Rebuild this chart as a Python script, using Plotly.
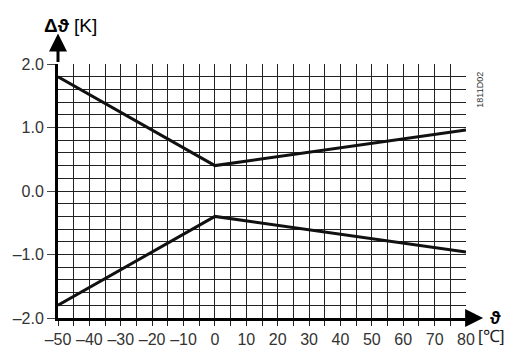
import plotly.graph_objects as go

temp = [-50, 0, 80]
upper = [1.8, 0.4, 0.96]
lower = [-1.8, -0.4, -0.96]
x_ticks = [-50, -40, -30, -20, -10, 0, 10, 20, 30, 40, 50, 60, 70, 80]
x_labels = ["\u201350", "\u201340", "\u201330", "\u201320", "\u201310", "0", "10", "20", "30", "40", "50", "60", "70", "80"]
y_ticks = [-2, -1, 0, 1, 2]
y_labels = ["\u20132.0", "\u20131.0", "0.0", "1.0", "2.0"]

fig = go.Figure()
for s in (upper, lower):
    fig.add_trace(go.Scatter(x=temp, y=s, mode="lines",
                             line=dict(color="#111", width=3), showlegend=False, hoverinfo="skip"))

grid = dict(showgrid=True, gridcolor="#222", gridwidth=1.3)
# page body has an 8px margin, so the figure is a bit smaller and margins shifted
fig.update_layout(
    width=514, height=339,
    margin=dict(l=50, r=56, t=56, b=29),
    plot_bgcolor="white", paper_bgcolor="white",
    font=dict(family="Liberation Sans, Arial", size=16, color="#333"),
    xaxis=dict(range=[-50, 80], tickvals=x_ticks, ticktext=x_labels, **grid,
               minor=dict(dtick=5, tick0=0, showgrid=True, gridcolor="#222", gridwidth=1.3,
                          ticks="outside", ticklen=5, tickcolor="#222", tickwidth=1.3),
               showline=True, linecolor="#000", linewidth=3, zeroline=False,
               ticks="outside", ticklen=5, tickcolor="#222", tickwidth=1.3,
               automargin=False, fixedrange=True),
    yaxis=dict(range=[-2, 2], tickvals=y_ticks, ticktext=y_labels, **grid,
               minor=dict(dtick=0.2, tick0=0, showgrid=True, gridcolor="#222", gridwidth=1.3),
               showline=True, linecolor="#000", linewidth=3, zeroline=False,
               ticks="outside", ticklen=8, tickcolor="#444", tickwidth=1.3,
               automargin=False, fixedrange=True),
)

# axis arrows
fig.add_annotation(xref="paper", yref="paper", x=0, y=1.12, ax=0, ay=30,
                   axref="pixel", ayref="pixel", text="", showarrow=True,
                   arrowhead=2, arrowsize=1.2, arrowwidth=3, arrowcolor="#000")
fig.add_annotation(xref="paper", yref="paper", x=1.042, y=0, ax=-18, ay=0,
                   text="", showarrow=True,
                   arrowhead=2, arrowsize=1.2, arrowwidth=3, arrowcolor="#000")

fig.add_annotation(xref="paper", yref="paper", x=-0.04, y=1.15, xanchor="left", yanchor="middle",
                   text="<b>\u0394\u03d1</b> [K]", showarrow=False,
                   font=dict(size=19, color="#000"))
fig.add_annotation(xref="paper", yref="paper", x=1.054, y=0.0, xanchor="left", yanchor="middle",
                   text="<b>\u03d1</b>", showarrow=False, font=dict(size=18, color="#000"))
fig.add_annotation(xref="paper", yref="paper", x=1.025, y=-0.072, xanchor="left", yanchor="middle",
                   text="[\u2103]", showarrow=False, font=dict(size=17, color="#222"))
fig.add_annotation(xref="paper", yref="paper", x=1.035, y=0.9, xanchor="center", yanchor="middle",
                   text="1811D02", textangle=-90, showarrow=False, font=dict(size=9, color="#333"))

fig.write_html("out.html")
